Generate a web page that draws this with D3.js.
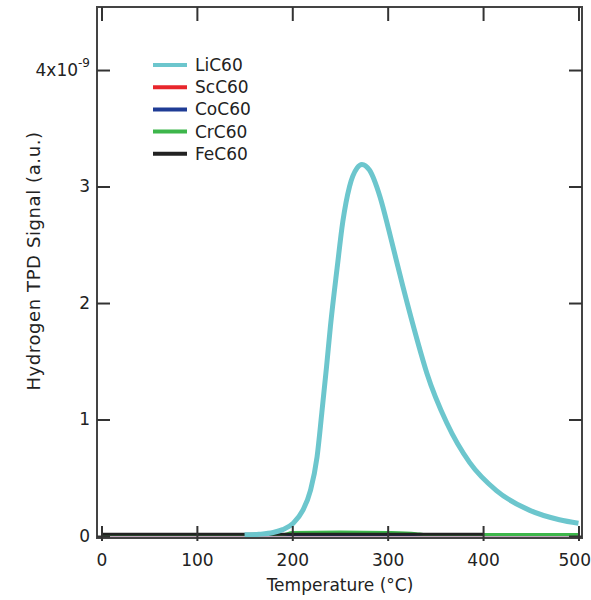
<!DOCTYPE html>
<html>
<head>
<meta charset="utf-8">
<script src="https://cdn.jsdelivr.net/npm/d3@7"></script>
<style>
  body { margin: 0; background: #fff; }
  text { font-family: "DejaVu Sans", sans-serif; fill: #222; }
</style>
</head>
<body>
<div id="chart"></div>
<script>
var w = 591;
var h = 600;

// temperatures in deg C, signals in units of 1e-9
var liTemp   = [150, 165, 180, 190, 201, 211, 219, 226, 231, 236, 240, 247, 253, 260, 268, 273, 281, 292, 302, 316, 331, 341, 362, 386, 414, 449, 480, 500];
var liSignal = [0.01, 0.015, 0.03, 0.055, 0.11, 0.22, 0.39, 0.68, 1.06, 1.46, 1.80, 2.30, 2.70, 3.0, 3.16, 3.19, 3.14, 2.91, 2.6, 2.14, 1.68, 1.40, 0.97, 0.63, 0.39, 0.22, 0.14, 0.11];

var flatTemp   = [0, 100, 200, 300, 400, 500];
var scSignal   = [0.01, 0.01, 0.01, 0.01, 0.01, 0.01];
var coSignal   = [0.01, 0.01, 0.01, 0.01, 0.01, 0.01];

var crTemp   = [0, 100, 190, 200, 250, 300, 330, 340, 400, 450, 500];
var crSignal = [0.012, 0.012, 0.012, 0.03, 0.035, 0.03, 0.02, 0.012, 0.012, 0.012, 0.012];

var feTemp   = [0, 100, 200, 300, 400];
var feSignal = [0.015, 0.015, 0.015, 0.015, 0.015];

var seriesNames  = ["LiC60", "ScC60", "CoC60", "CrC60", "FeC60"];
var seriesColors = ["#6cc6cd", "#e8262c", "#1f3c95", "#3db64b", "#222222"];

var xTicks = [0, 100, 200, 300, 400, 500];
var yTicks = [0, 1, 2, 3, 4];

var x = d3.scaleLinear().domain([-4.7, 503.7]).range([97, 582]);
var y = d3.scaleLinear().domain([-0.017, 4.541]).range([538, 7]);

var svg = d3.select("#chart").append("svg")
    .attr("width", w)
    .attr("height", h);

var line = d3.line()
    .x(function(d) { return x(d[0]); })
    .y(function(d) { return y(d[1]); })
    .curve(d3.curveMonotoneX);

// draw order: flat ones first, LiC60 on top
var drawn = [
  { t: flatTemp, v: scSignal, c: seriesColors[1], wd: 3 },
  { t: flatTemp, v: coSignal, c: seriesColors[2], wd: 3 },
  { t: crTemp, v: crSignal, c: seriesColors[3], wd: 3 },
  { t: feTemp, v: feSignal, c: seriesColors[4], wd: 3 },
  { t: liTemp, v: liSignal, c: seriesColors[0], wd: 5 }
];

drawn.forEach(function(s) {
  svg.append("path")
    .datum(d3.zip(s.t, s.v))
    .attr("d", line)
    .attr("fill", "none")
    .attr("stroke", s.c)
    .attr("stroke-width", s.wd)
    .attr("stroke-linejoin", "round");
});

// frame
svg.append("rect")
    .attr("x", 97).attr("y", 7)
    .attr("width", 485).attr("height", 531)
    .attr("fill", "none")
    .attr("stroke", "#444")
    .attr("stroke-width", 2);

function styleAxis(g) {
  g.select(".domain").remove();
  g.selectAll(".tick line").attr("stroke", "#333").attr("stroke-width", 2);
  g.selectAll(".tick text").attr("font-size", "17px").attr("fill", "#222")
    .attr("font-family", "DejaVu Sans, sans-serif");
}

// bottom axis, ticks pointing up and crossing the frame
var xb = svg.append("g")
    .attr("transform", "translate(0,538)")
    .call(d3.axisBottom(x).tickValues(xTicks).tickSizeInner(-12).tickSizeOuter(0).tickPadding(16))
    .call(styleAxis);
xb.selectAll(".tick line").attr("y2", -12).attr("y1", 3);
// last label sits against the window edge
xb.selectAll(".tick text").filter(function(d) { return d === 500; })
    .attr("text-anchor", "end").attr("x", 12);

svg.append("g")
    .attr("transform", "translate(0,7)")
    .call(d3.axisTop(x).tickValues(xTicks).tickSizeInner(-14).tickSizeOuter(0).tickFormat(""))
    .call(styleAxis);

var yl = svg.append("g")
    .attr("transform", "translate(97,0)")
    .call(d3.axisLeft(y).tickValues(yTicks).tickSizeInner(-13).tickSizeOuter(0).tickPadding(7)
      .tickFormat(function(d) { return d === 4 ? "4x10" : d; }))
    .call(styleAxis);

yl.selectAll(".tick text").filter(function(d) { return d === 4; })
  .append("tspan")
    .attr("font-size", "12px")
    .attr("dy", "-0.75em")
    .text("-9");

svg.append("g")
    .attr("transform", "translate(582,0)")
    .call(d3.axisRight(y).tickValues(yTicks).tickSizeInner(-13).tickSizeOuter(0).tickFormat(""))
    .call(styleAxis);

// axis titles
svg.append("text")
    .attr("x", 340).attr("y", 591)
    .attr("text-anchor", "middle")
    .attr("font-size", "17px")
    .text("Temperature (\u00b0C)");

svg.append("text")
    .attr("transform", "translate(40,261) rotate(-90)")
    .attr("text-anchor", "middle")
    .attr("font-size", "18px")
    .attr("letter-spacing", "0.6px")
    .text("Hydrogen TPD Signal (a.u.)");

// legend
var legend = svg.selectAll(".legend")
    .data(seriesNames)
    .enter().append("g")
    .attr("class", "legend")
    .attr("transform", function(d, i) { return "translate(153," + (65 + i * 22.2) + ")"; });

legend.append("line")
    .attr("x1", 0).attr("x2", 34)
    .attr("stroke", function(d, i) { return seriesColors[i]; })
    .attr("stroke-width", 4);

legend.append("text")
    .attr("x", 42).attr("y", 6)
    .attr("font-size", "17px")
    .text(function(d) { return d; });
</script>
</body>
</html>
